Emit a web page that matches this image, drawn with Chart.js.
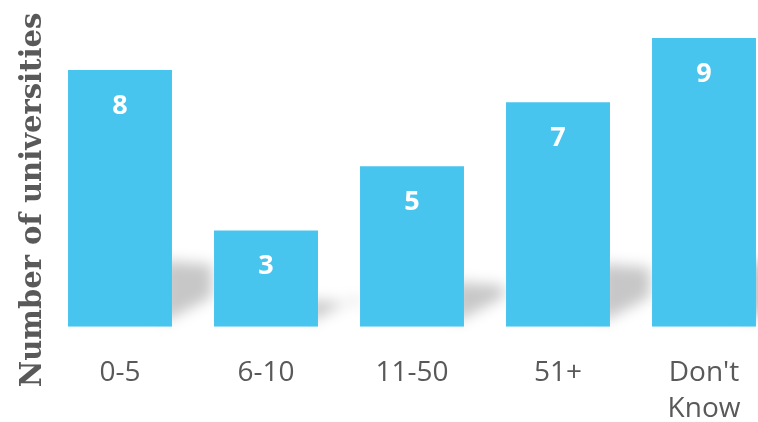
<!DOCTYPE html>
<html lang="en">
<head>
    <meta charset="UTF-8">
    <title>Number of universities</title>
    <style>
        html, body {
            margin: 0;
            padding: 0;
            background: #ffffff;
            overflow: hidden;
        }

        /* a bit larger than the window: the last bar runs to the edge */
        .wrap {
            position: relative;
            width: 800px;
            height: 455px;
        }
    </style>
</head>
<body>
    <div class="wrap">
        <canvas id="uniChart"></canvas>
    </div>

    <script src="https://cdn.jsdelivr.net/npm/chart.js"></script>
    <script>
        // Data
        const categories = ['0-5', '6-10', '11-50', '51+', ["Don't", 'Know']];
        const counts = [8, 3, 5, 7, 9];
        const yTitle = 'Number of universities';

        const barColor = '#48c5ef';
        const textGrey = '#595959';

        // soft grey shadow cast to the right of each bar
        const barShadow = {
            id: 'barShadow',
            beforeDatasetsDraw(chart) {
                const ctx = chart.ctx;
                const bars = chart.getDatasetMeta(0).data;
                ctx.save();
                ctx.filter = 'blur(7px)';
                ctx.fillStyle = 'rgba(0,0,0,0.22)';
                bars.forEach(bar => {
                    const x1 = bar.x + bar.width / 2;
                    const b = bar.base;
                    const h = Math.min((b - bar.y) * 0.28, 66);
                    ctx.beginPath();
                    ctx.moveTo(x1 - 10, b - h);
                    ctx.lineTo(x1 + 40, b - h + 4);
                    ctx.lineTo(x1 + 40, b - 30);
                    ctx.lineTo(x1 - 10, b - 4);
                    ctx.closePath();
                    ctx.fill();
                });
                ctx.restore();
            }
        };

        // white value labels inside the bars and the rotated axis title
        const labelsPlugin = {
            id: 'labelsPlugin',
            afterDatasetsDraw(chart) {
                const ctx = chart.ctx;
                const bars = chart.getDatasetMeta(0).data;
                ctx.save();
                ctx.fillStyle = '#ffffff';
                ctx.font = 'bold 27px "Open Sans"';
                ctx.textAlign = 'center';
                ctx.textBaseline = 'middle';
                bars.forEach((bar, i) => {
                    ctx.fillText(String(counts[i]), bar.x, bar.y + 36);
                });
                ctx.restore();

                ctx.save();
                ctx.translate(41, 200);
                ctx.rotate(-Math.PI / 2);
                ctx.fillStyle = textGrey;
                ctx.font = 'bold 29px "DejaVu Serif"';
                ctx.textAlign = 'center';
                ctx.textBaseline = 'alphabetic';
                ctx.fillText(yTitle, 0, 0);
                ctx.restore();
            }
        };

        new Chart(document.getElementById('uniChart'), {
            type: 'bar',
            data: {
                labels: categories,
                datasets: [{
                    data: counts,
                    backgroundColor: barColor,
                    borderWidth: 0,
                    categoryPercentage: 1,
                    barPercentage: 0.712
                }]
            },
            options: {
                responsive: true,
                maintainAspectRatio: false,
                animation: false,
                layout: { padding: { left: 47, right: 23, top: 38, bottom: 0 } },
                plugins: {
                    legend: { display: false },
                    tooltip: { enabled: false }
                },
                scales: {
                    x: {
                        grid: { display: false, drawTicks: false },
                        border: { display: false },
                        ticks: {
                            color: textGrey,
                            padding: 28,
                            font: { family: 'Open Sans', size: 28, lineHeight: 1.29 },
                            maxRotation: 0,
                            autoSkip: false
                        }
                    },
                    y: {
                        display: false,
                        min: 0,
                        max: 9
                    }
                }
            },
            plugins: [barShadow, labelsPlugin]
        });
    </script>
</body>
</html>
